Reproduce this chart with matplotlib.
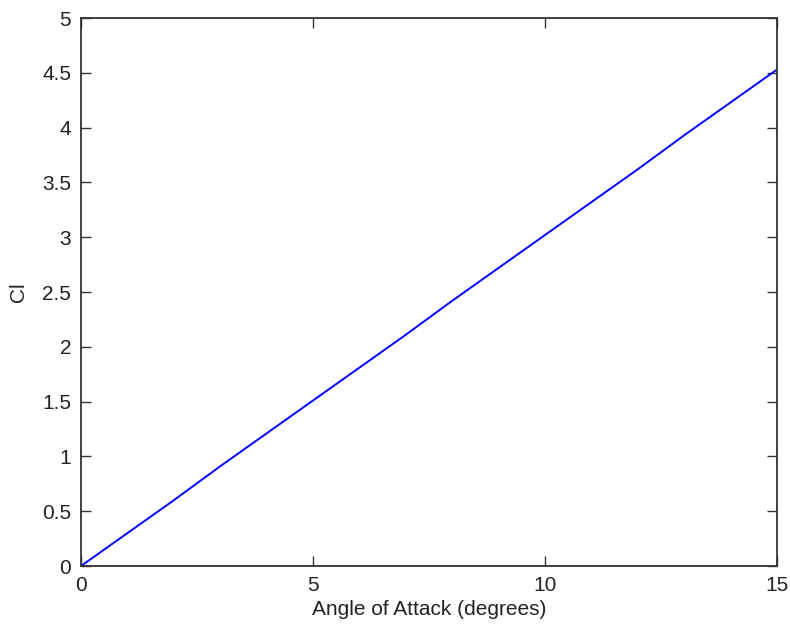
import matplotlib
matplotlib.use('Agg')
import matplotlib.pyplot as plt

plt.rcParams['font.family'] = ['Liberation Sans', 'DejaVu Sans']

# 攻角 (度) 与升力系数
alpha_deg = [0, 1, 2, 3, 4, 5, 6, 7, 8, 9, 10, 11, 12, 13, 14, 15]
cl = [0, 0.30, 0.60, 0.91, 1.21, 1.51, 1.81, 2.11, 2.42, 2.72, 3.02, 3.32, 3.62, 3.93, 4.23, 4.53]

x_ticks = [0, 5, 10, 15]
y_ticks = [0, 0.5, 1, 1.5, 2, 2.5, 3, 3.5, 4, 4.5, 5]
y_ticklabels = ['0', '0.5', '1', '1.5', '2', '2.5', '3', '3.5', '4', '4.5', '5']

fig = plt.figure(figsize=(7.9, 6.26), dpi=100)
ax = fig.add_axes([0.1025, 0.0958, 0.881, 0.8754])

ax.plot(alpha_deg, cl, color='#0000ff', linewidth=1.4)

ax.set_xlim(0, 15)
ax.set_ylim(0, 5)
ax.set_xticks(x_ticks)
ax.set_yticks(y_ticks)
ax.set_yticklabels(y_ticklabels)
ax.tick_params(direction='in', length=7, width=1, labelsize=15, top=True, right=True,
               labeltop=False, labelright=False, color='#333333', labelcolor='#222222')
ax.tick_params(axis='y', pad=7)
ax.tick_params(axis='x', pad=7)
for s in ax.spines.values():
    s.set_linewidth(1.3)
    s.set_color('#333333')

ax.set_xlabel('Angle of Attack (degrees)', fontsize=15, color='#222222', labelpad=4)
ax.set_ylabel('Cl', fontsize=15, color='#222222', labelpad=10)

fig.savefig('out.png', dpi=100)
